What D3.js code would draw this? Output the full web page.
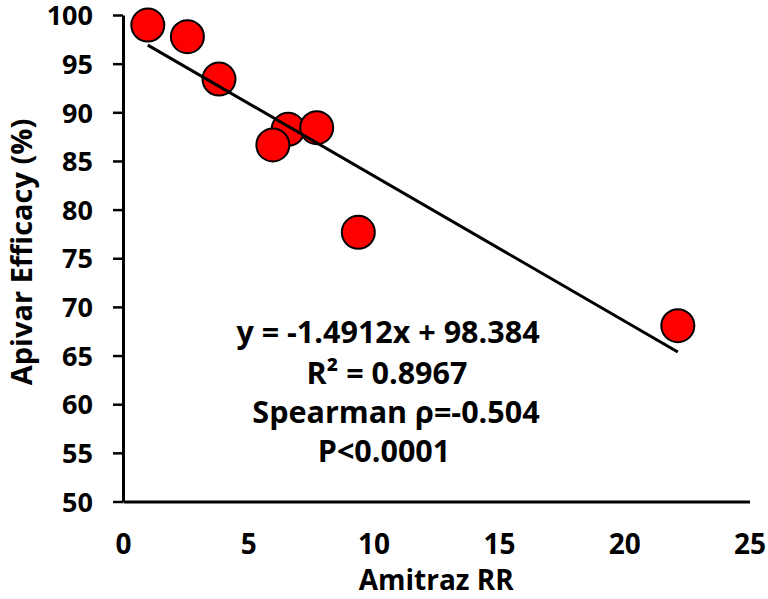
<!DOCTYPE html>
<html>
<head>
<meta charset="utf-8">
<script src="https://cdn.jsdelivr.net/npm/d3@7"></script>
<style>
  html, body { margin: 0; padding: 0; background: #fff; }
  svg { display: block; }
  text { font-family: "Open Sans", "DejaVu Sans", sans-serif; font-weight: bold; fill: #000; }
</style>
</head>
<body>
<svg id="chart" width="768" height="599"></svg>
<script>
// ---- data ----
const amitrazRR = [0.99, 2.57, 3.83, 6.59, 5.98, 7.73, 9.39, 22.14];
const apivarEfficacy = [98.97, 97.77, 93.42, 88.25, 86.64, 88.42, 77.67, 68.07];
const xTicks = [0, 5, 10, 15, 20, 25];
const yTicks = [50, 55, 60, 65, 70, 75, 80, 85, 90, 95, 100];
const trendSlope = -1.4912;
const trendIntercept = 98.384;
const annotationLines = ["y = -1.4912x + 98.384", "R\u00B2 = 0.8967", "Spearman \u03C1=-0.504", "P<0.0001"];
const xTitle = "Amitraz RR";
const yTitle = "Apivar Efficacy (%)";

// ---- layout ----
const svg = d3.select("#chart");
const x = d3.scaleLinear().domain([0, 25]).range([123, 749.5]);
const y = d3.scaleLinear().domain([50, 100]).range([501.5, 15]);

// y axis
const yAxis = svg.append("g")
  .attr("transform", `translate(${x(0)},0)`)
  .call(d3.axisLeft(y).tickValues(yTicks).tickSize(10).tickPadding(20).tickSizeOuter(0));
yAxis.attr("font-family", null).attr("font-size", null);
yAxis.select(".domain").attr("stroke", "#000").attr("stroke-width", 3);
yAxis.selectAll(".tick line").attr("stroke", "#000").attr("stroke-width", 2.5);
yAxis.selectAll(".tick text").style("font-size", "27px").attr("dy", "0.36em");

// x axis
const xAxis = svg.append("g")
  .attr("transform", `translate(0,${y(50)})`)
  .call(d3.axisBottom(x).tickValues(xTicks).tickSize(0).tickPadding(33).tickSizeOuter(0));
xAxis.attr("font-family", null).attr("font-size", null);
xAxis.select(".domain").attr("stroke", "#000").attr("stroke-width", 3);
xAxis.selectAll(".tick text").style("font-size", "28px");

// axis titles
svg.append("text")
  .attr("x", (x(0) + x(25)) / 2)
  .attr("y", 590)
  .attr("text-anchor", "middle")
  .style("font-size", "28px")
  .text(xTitle);

svg.append("text")
  .attr("transform", `translate(32,${252}) rotate(-90)`)
  .attr("text-anchor", "middle")
  .style("font-size", "29px")
  .text(yTitle);

// points
const pts = amitrazRR.map((v, i) => ({ x: v, y: apivarEfficacy[i] }));
svg.append("g").selectAll("circle").data(pts).enter().append("circle")
  .attr("cx", d => x(d.x))
  .attr("cy", d => y(d.y))
  .attr("r", 16.5)
  .attr("fill", "#FF0000")
  .attr("stroke", "#000")
  .attr("stroke-width", 2);

// trend line
const xMin = d3.min(amitrazRR), xMax = d3.max(amitrazRR);
svg.append("line")
  .attr("x1", x(xMin)).attr("y1", y(trendSlope * xMin + trendIntercept))
  .attr("x2", x(xMax)).attr("y2", y(trendSlope * xMax + trendIntercept))
  .attr("stroke", "#000")
  .attr("stroke-width", 3);

// annotation
const annX = [388, 387, 396, 384];
const annY = [343, 384, 423, 462];
svg.append("g").selectAll("text").data(annotationLines).enter().append("text")
  .attr("x", (d, i) => annX[i])
  .attr("y", (d, i) => annY[i])
  .attr("text-anchor", "middle")
  .style("font-size", "30.5px")
  .text(d => d);
</script>
</body>
</html>
